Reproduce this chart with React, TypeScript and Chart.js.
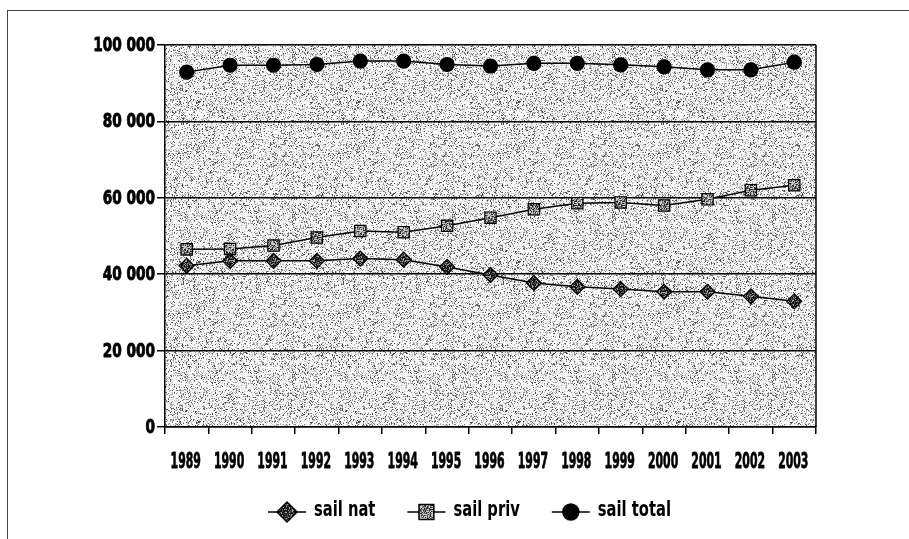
import React, { useEffect, useRef } from 'react';
import { Chart, registerables } from 'chart.js';

Chart.register(...registerables);

const years = ['1989', '1990', '1991', '1992', '1993', '1994', '1995', '1996', '1997', '1998', '1999', '2000', '2001', '2002', '2003'];
const sailNat = [42200, 43500, 43500, 43500, 44100, 43800, 41900, 39800, 37700, 36700, 36100, 35400, 35400, 34200, 32900];
const sailPriv = [46500, 46600, 47500, 49600, 51300, 51000, 52700, 54800, 57000, 58600, 58800, 58000, 59600, 62000, 63300];
const sailTotal = [92900, 94700, 94700, 94900, 95800, 95800, 94900, 94500, 95200, 95200, 94800, 94300, 93500, 93500, 95500];
const seriesNames = ['sail nat', 'sail priv', 'sail total'];
const yMin = 0;
const yMax = 100000;
const yStep = 20000;

const FONT = "'DejaVu Sans Condensed', 'DejaVu Sans', sans-serif";

function hash(x: number, y: number, seed: number): number {
  let h = Math.imul(x, 374761393) + Math.imul(y, 668265263) + Math.imul(seed, 1442695041);
  h = Math.imul(h ^ (h >>> 13), 1274126177);
  h = h ^ (h >>> 16);
  return (h >>> 0) / 4294967296;
}

function makeTexture(size: number, seed: number, levels: [number, number][]): HTMLCanvasElement {
  const c = document.createElement('canvas');
  c.width = size;
  c.height = size;
  const ctx = c.getContext('2d')!;
  const img = ctx.createImageData(size, size);
  for (let y = 0; y < size; y++) {
    for (let x = 0; x < size; x++) {
      const v = hash(x, y, seed);
      let g = 255;
      for (const [t, col] of levels) {
        if (v < t) { g = col; break; }
      }
      const i = (y * size + x) * 4;
      img.data[i] = g; img.data[i + 1] = g; img.data[i + 2] = g; img.data[i + 3] = 255;
    }
  }
  ctx.putImageData(img, 0, 0);
  return c;
}

function fmt(v: number): string {
  return String(v).replace(/\B(?=(\d{3})+(?!\d))/g, ' ');
}

function squeezedText(ctx: CanvasRenderingContext2D, text: string, x: number, y: number, sx: number, align: 'left' | 'right' | 'center', heavy = 0) {
  ctx.save();
  ctx.translate(x, y);
  ctx.scale(sx, 1);
  ctx.textAlign = align;
  ctx.textBaseline = 'middle';
  ctx.fillText(text, 0, 0);
  if (heavy > 0) {
    ctx.lineWidth = heavy;
    ctx.strokeStyle = '#000';
    ctx.lineJoin = 'round';
    ctx.strokeText(text, 0, 0);
  }
  ctx.restore();
}

export default function App() {
  const ref = useRef<HTMLCanvasElement | null>(null);

  useEffect(() => {
    document.body.style.margin = '0';
    const canvas = ref.current!;
    const ctx0 = canvas.getContext('2d')!;
    const bgPat = ctx0.createPattern(makeTexture(160, 7, [[0.07, 80], [0.17, 140], [0.32, 195], [1.1, 248]]), 'repeat')!;
    const natPat = ctx0.createPattern(makeTexture(16, 3, [[0.5, 20], [0.8, 80], [1.1, 160]]), 'repeat')!;
    const privPat = ctx0.createPattern(makeTexture(16, 5, [[0.25, 40], [0.55, 120], [1.1, 200]]), 'repeat')!;

    const styles = [
      { style: 'rectRot', radius: 7.5, fill: natPat as any, legendR: 10 },
      { style: 'rect', radius: 8, fill: privPat as any, legendR: 10.5 },
      { style: 'circle', radius: 7, fill: '#000', legendR: 8 },
    ];
    const values = [sailNat, sailPriv, sailTotal];

    const bgPlugin = {
      id: 'bgTexture',
      beforeDraw(chart: any) {
        const { ctx, chartArea: a } = chart;
        ctx.save();
        ctx.fillStyle = bgPat;
        ctx.fillRect(a.left, a.top, a.right - a.left, a.bottom - a.top);
        ctx.restore();
      },
      afterDraw(chart: any) {
        const { ctx, chartArea: a } = chart;
        ctx.save();
        ctx.strokeStyle = '#000';
        ctx.lineWidth = 1.5;
        ctx.beginPath();
        ctx.moveTo(a.right, a.top);
        ctx.lineTo(a.right, a.bottom);
        ctx.stroke();

        // axis labels
        ctx.fillStyle = '#000';
        const ys = chart.scales.y;
        ctx.font = `bold 19px ${FONT}`;
        ys.ticks.forEach((t: any) => {
          squeezedText(ctx, fmt(t.value), 155, ys.getPixelForValue(t.value) + 1, 0.8, 'right', 0.8);
        });
        const xs = chart.scales.x;
        ctx.font = `bold 22px ${FONT}`;
        years.forEach((yr, i) => {
          squeezedText(ctx, yr, xs.getPixelForValue(i) - 1, 462, 0.55, 'center', 0.8);
        });

        // legend
        ctx.font = `bold 21px ${FONT}`;
        let x = 268;
        const y = 512;
        seriesNames.forEach((name, i) => {
          const s = styles[i];
          ctx.lineWidth = 1.5;
          ctx.strokeStyle = '#000';
          ctx.beginPath();
          ctx.moveTo(x, y);
          ctx.lineTo(x + 38, y);
          ctx.stroke();
          const cx = x + 19;
          ctx.beginPath();
          const r = s.legendR;
          if (s.style === 'rectRot') {
            ctx.moveTo(cx - r, y); ctx.lineTo(cx, y - r); ctx.lineTo(cx + r, y); ctx.lineTo(cx, y + r); ctx.closePath();
          } else if (s.style === 'rect') {
            const h = r * Math.SQRT1_2;
            ctx.rect(cx - h, y - h, 2 * h, 2 * h);
          } else {
            ctx.arc(cx, y, r, 0, Math.PI * 2);
          }
          ctx.fillStyle = s.fill;
          ctx.fill();
          ctx.stroke();
          ctx.fillStyle = '#000';
          const sx = 0.78;
          squeezedText(ctx, name, x + 46, y - 1, sx, 'left', 0);
          x += 46 + ctx.measureText(name).width * sx + 32;
        });
        ctx.restore();
      },
    };

    const chart = new Chart(canvas, {
      type: 'line',
      data: {
        labels: years,
        datasets: seriesNames.map((name, i) => ({
          label: name,
          data: values[i],
          borderColor: '#000',
          borderWidth: 1.5,
          pointStyle: styles[i].style as any,
          pointRadius: styles[i].radius,
          pointBackgroundColor: styles[i].fill,
          pointBorderColor: '#000',
          pointBorderWidth: 1.2,
          tension: 0,
          fill: false,
        })),
      },
      options: {
        animation: false,
        responsive: false,
        devicePixelRatio: 1,
        layout: { padding: { top: 45, right: 93, left: 0, bottom: 0 } },
        plugins: { legend: { display: false }, tooltip: { enabled: false } },
        scales: {
          x: {
            type: 'category',
            offset: true,
            grid: { offset: true, drawOnChartArea: false, drawTicks: true, tickLength: 7, color: '#000', lineWidth: 1.5 },
            border: { color: '#000', width: 1.5 },
            ticks: { display: false, autoSkip: false, maxRotation: 0 },
            afterFit: (s: any) => { s.height = 539 - 427; },
          },
          y: {
            min: yMin,
            max: yMax,
            ticks: { display: false, stepSize: yStep },
            grid: { color: '#000', lineWidth: 1.5, tickLength: 8, drawTicks: true },
            border: { color: '#000', width: 1.5 },
            afterFit: (s: any) => { s.width = 165; },
          },
        },
      },
      plugins: [bgPlugin],
    });
    return () => chart.destroy();
  }, []);

  return (
    <div style={{ position: 'relative', width: 909, height: 539, overflow: 'hidden', background: '#fff' }}>
      <div style={{ position: 'absolute', left: 7, top: 10, width: 902, height: 1, background: '#444' }} />
      <div style={{ position: 'absolute', left: 7, top: 10, width: 1, height: 529, background: '#444' }} />
      <canvas ref={ref} width={909} height={539} style={{ position: 'absolute', left: 0, top: 0 }} />
    </div>
  );
}
